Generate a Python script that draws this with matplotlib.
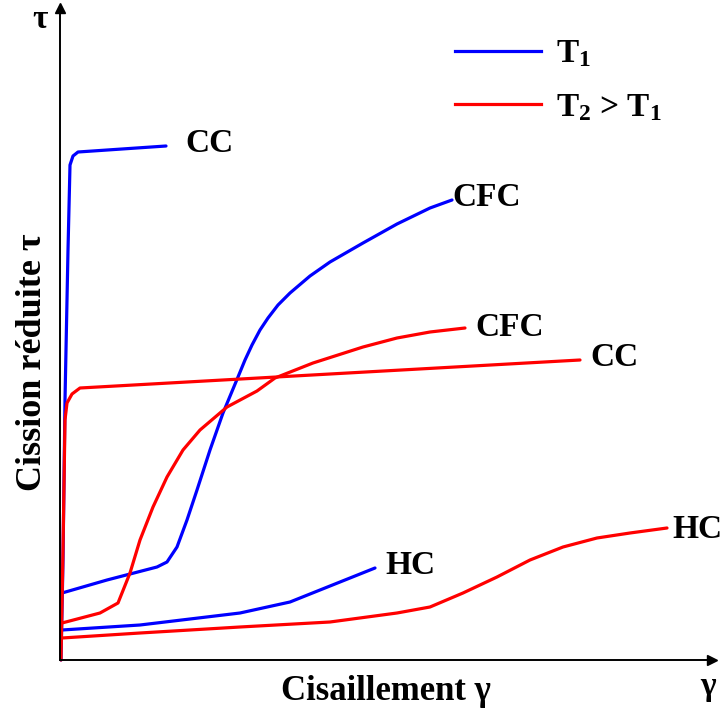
import numpy as np
import matplotlib.pyplot as plt
from matplotlib.lines import Line2D

plt.rcParams['font.family'] = ['Liberation Serif', 'DejaVu Serif']
plt.rcParams['font.weight'] = 'bold'
plt.rcParams['axes.labelweight'] = 'bold'
plt.rcParams['mathtext.fontset'] = 'custom'
plt.rcParams['mathtext.rm'] = 'Liberation Serif:bold'
plt.rcParams['mathtext.bf'] = 'Liberation Serif:bold'
plt.rcParams['mathtext.it'] = 'Liberation Serif:bold'

# curves (shear gamma, resolved stress tau), arbitrary units
cc_t1_x = [1, 3, 5, 8, 10, 13, 18, 106]
cc_t1_y = [0, 100, 260, 410, 495, 504, 508, 514]

cfc_t1_x = [2, 47, 97, 107, 117, 127, 137, 150, 163, 178, 185, 192, 200, 208, 218, 230, 250, 270, 303, 337, 370, 392]
cfc_t1_y = [67, 80, 93, 98, 113, 140, 170, 210, 247, 283, 300, 315, 330, 342, 355, 367, 384, 398, 417, 436, 452, 460]

hc_t1_x = [2, 80, 180, 230, 280, 315]
hc_t1_y = [30, 35, 47, 58, 78, 92]

cc_t2_x = [1, 3, 5, 7, 12, 20, 520]
cc_t2_y = [0, 110, 240, 257, 266, 272, 300]

cfc_t2_x = [2, 40, 58, 70, 80, 93, 107, 123, 140, 167, 197, 215, 253, 303, 337, 370, 405]
cfc_t2_y = [37, 47, 57, 87, 120, 153, 183, 210, 230, 253, 269, 282, 297, 313, 322, 328, 332]

hc_t2_x = [2, 80, 180, 270, 337, 370, 403, 437, 470, 503, 537, 570, 607]
hc_t2_y = [22, 27, 33, 38, 47, 53, 67, 83, 100, 113, 122, 127, 132]

curve_labels = ['CC', 'CFC', 'HC', 'CC', 'CFC', 'HC']
legend_labels = [r'T$_{1}$', r'T$_{2}$ > T$_{1}$']

fig = plt.figure(figsize=(7.24, 7.10), dpi=100)
ax = fig.add_axes([60 / 724, 50 / 710, 652 / 724, 652 / 710])
ax.set_xlim(0, 652)
ax.set_ylim(0, 652)

blue = '#0000ff'
red = '#ff0000'
curves = [
    (cc_t1_x, cc_t1_y, blue, (19, 2)),
    (cfc_t1_x, cfc_t1_y, blue, (0, 2)),
    (hc_t1_x, hc_t1_y, blue, (10, 3)),
    (cc_t2_x, cc_t2_y, red, (10, 2)),
    (cfc_t2_x, cfc_t2_y, red, (10, 1)),
    (hc_t2_x, hc_t2_y, red, (5, -2)),
]
for (x, y, c, off), lab in zip(curves, curve_labels):
    ax.plot(x, y, color=c, lw=2.3, solid_joinstyle='round', solid_capstyle='round', clip_on=False)
    ax.text(x[-1] + off[0], y[-1] + off[1], lab, fontsize=24, va='center', ha='left')

# axes with arrows
for s in ['top', 'right']:
    ax.spines[s].set_visible(False)
for s in ['left', 'bottom']:
    ax.spines[s].set_linewidth(1.4)
ax.set_xticks([])
ax.set_yticks([])
ax.plot(1, 0, '>k', ms=7, transform=ax.get_yaxis_transform(), clip_on=False)
ax.plot(0, 1, '^k', ms=7, transform=ax.get_xaxis_transform(), clip_on=False)

ax.text(-20, 640, r'τ', fontsize=24, ha='center', va='center')
ax.text(648, -27, r'γ', fontsize=24, ha='center', va='center')
ax.set_xlabel('Cisaillement γ', fontsize=25, labelpad=11)
ax.set_ylabel('Cission réduite τ', fontsize=26, labelpad=12)
ax.yaxis.set_label_coords(-11 / 652, 298 / 652)

handles = [Line2D([], [], color=blue, lw=2.3), Line2D([], [], color=red, lw=2.3)]
ax.legend(handles, legend_labels, frameon=False, fontsize=24, loc='upper left',
          bbox_to_anchor=(378 / 652, 0.9785), handlelength=2.6, handletextpad=0.45,
          labelspacing=0.67, borderpad=0)

fig.savefig('out.png', dpi=100)
